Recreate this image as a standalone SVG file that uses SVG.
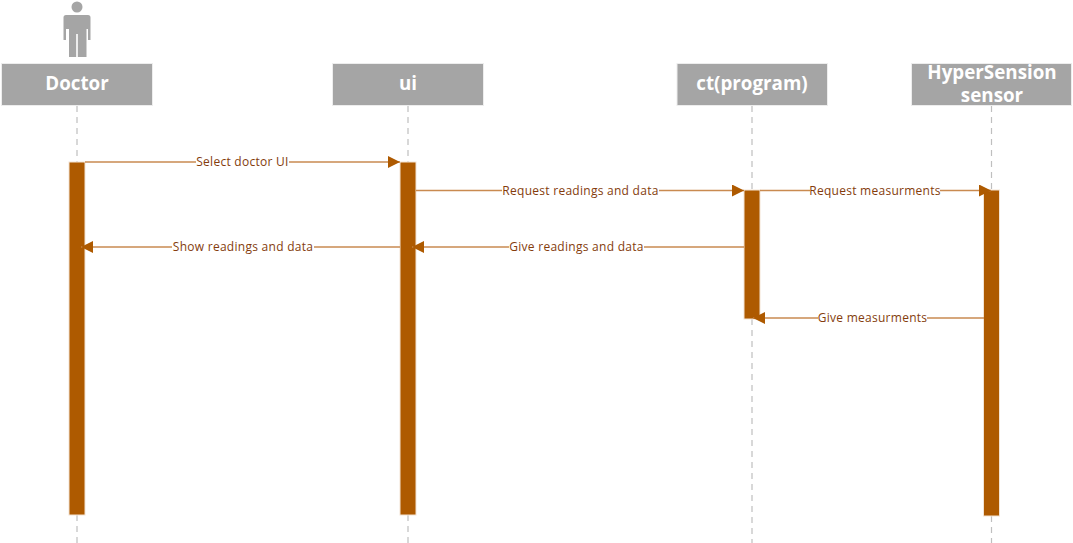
<svg xmlns="http://www.w3.org/2000/svg" width="1073" height="543" viewBox="0 0 1073 543">
<style>
.hd{fill:#a5a5a5;stroke:#ededed;stroke-width:1}
.hdt{font-family:"Open Sans","Liberation Sans",sans-serif;font-size:18.8px;font-weight:700;fill:#fff;text-anchor:middle}
.life{stroke:#bfbfbf;stroke-width:1.2;stroke-dasharray:6 5;fill:none}
.act{fill:#ae5a00;stroke:#f3e3d3;stroke-width:1}
.msg{stroke:#c98a50;stroke-width:1.3;fill:none}
.lbl{font-family:"Open Sans","Liberation Sans",sans-serif;font-size:12px;letter-spacing:.27px;fill:#843c0c;text-anchor:middle}
.bg{fill:#fff}
</style>
<defs>
<marker id="a" markerUnits="userSpaceOnUse" markerWidth="12" markerHeight="12" refX="12" refY="6" orient="auto"><path d="M0 0L12 6L0 12Z" fill="#ae5a00"/></marker>
</defs>
<rect width="1073" height="543" fill="#fff"/>
<g id="lifelines">
<path class="life" d="M77 106V162M77 515V543"/>
<path class="life" d="M408 106V162M408 515V543"/>
<path class="life" d="M752 106V190M752 319V543"/>
<path class="life" d="M991.500 106V190M991.500 516V543"/>
</g>
<g id="node-doctor">
<circle cx="77" cy="7" r="5.500" fill="#a5a5a5"/>
<path d="M66 15H88Q90.500 15 90.500 17.500V40H88V29H86.500V57H77.800V34H76.200V57H69V29H66V40H63.500V17.500Q63.500 15 66 15Z" fill="#a5a5a5"/>
<rect class="hd" x="1.500" y="63.500" width="151" height="42"/>
<text class="hdt" x="77" y="90">Doctor</text>
<rect class="act" x="69" y="162" width="16" height="353"/>
</g>
<g id="node-ui">
<rect class="hd" x="332.500" y="63.500" width="151" height="42"/>
<text class="hdt" x="408" y="90">ui</text>
<rect class="act" x="400" y="162" width="16" height="353"/>
</g>
<g id="node-ct">
<rect class="hd" x="677" y="63.500" width="150.500" height="42"/>
<text class="hdt" x="752" y="90">ct(program)</text>
<rect class="act" x="744" y="190" width="16" height="129"/>
</g>
<g id="node-sensor">
<rect class="hd" x="911.500" y="63.500" width="160" height="42"/>
<text class="hdt"><tspan x="992" y="79">HyperSension</tspan><tspan x="992" y="102">sensor</tspan></text>
<rect class="act" x="983.500" y="190" width="16" height="326"/>
</g>
<g id="connectors">
<path class="msg" d="M85 162H400" marker-end="url(#a)"/>
<rect class="bg" x="196" y="155" width="93" height="14"/>
<text class="lbl" x="242.500" y="166">Select doctor UI</text>
<path class="msg" d="M416 190.500H744" marker-end="url(#a)"/>
<rect class="bg" x="502" y="183" width="157" height="14"/>
<text class="lbl" x="580.500" y="195">Request readings and data</text>
<path class="msg" d="M760 190.500H991" marker-end="url(#a)"/>
<rect class="bg" x="810" y="183" width="130" height="14"/>
<text class="lbl" x="875" y="195">Request measurments</text>
<path class="msg" d="M744 247H412" marker-end="url(#a)"/>
<rect class="bg" x="509" y="240" width="135" height="14"/>
<text class="lbl" x="576.500" y="251">Give readings and data</text>
<path class="msg" d="M400 247H81" marker-end="url(#a)"/>
<rect class="bg" x="172" y="240" width="142" height="14"/>
<text class="lbl" x="243" y="251">Show readings and data</text>
<path class="msg" d="M984 318H753" marker-end="url(#a)"/>
<rect class="bg" x="818" y="311" width="109" height="14"/>
<text class="lbl" x="872.500" y="322">Give measurments</text>
</g>
</svg>
